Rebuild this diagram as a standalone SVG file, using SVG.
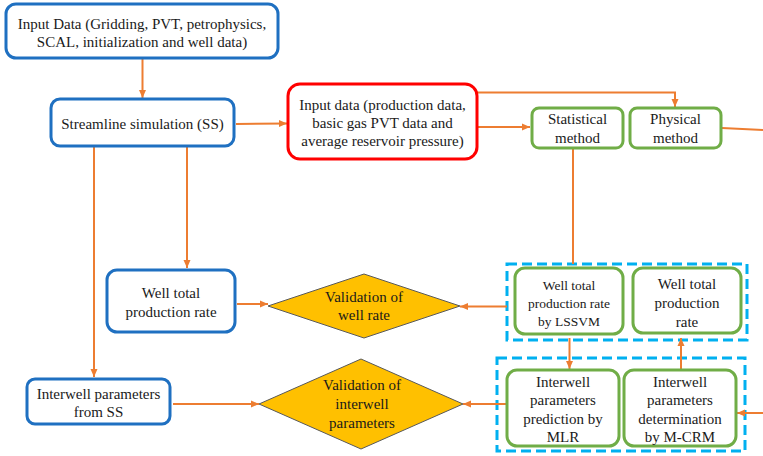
<svg xmlns="http://www.w3.org/2000/svg" width="763" height="456" viewBox="0 0 763 456" font-family="'Liberation Serif', 'DejaVu Serif', serif">
<defs>
<marker id="ah" markerUnits="userSpaceOnUse" markerWidth="8" markerHeight="8" refX="8" refY="4" orient="auto">
<path d="M0,0.5 L8,4 L0,7.5 z" fill="#ED7D31"/>
</marker>
</defs>
<style>
text{font-size:15px;fill:#1a1a1a;text-anchor:middle}
.blue{fill:#fff;stroke:#1F70C1;stroke-width:3}
.green{fill:#fff;stroke:#70AD47;stroke-width:3}
.red{fill:#fff;stroke:#FF0000;stroke-width:3}
.dash{fill:none;stroke:#00B0F0;stroke-width:3;stroke-dasharray:10 5}
.dia{fill:#FFC000;stroke:#595959;stroke-width:1}
.c{fill:none;stroke:#ED7D31;stroke-width:2}
.a{marker-end:url(#ah)}
.sm{font-size:13.5px}
</style>
<g id="groups">
<rect class="dash" x="507" y="264" width="240" height="76"/>
<rect class="dash" x="497" y="358" width="248" height="93"/>
</g>
<g id="connectors">
<line class="c a" x1="142.5" y1="59" x2="142.5" y2="98"/>
<line class="c a" x1="236" y1="124" x2="287" y2="123.5"/>
<line class="c a" x1="478" y1="127" x2="530" y2="127"/>
<polyline class="c a" points="477,92.5 675,92.5 675,107"/>
<line class="c" x1="722" y1="128" x2="763" y2="130"/>
<line class="c" x1="573" y1="149" x2="573" y2="264"/>
<line class="c a" x1="187" y1="147" x2="187" y2="268"/>
<line class="c a" x1="94" y1="147" x2="94" y2="377"/>
<line class="c a" x1="237" y1="304" x2="268" y2="304"/>
<line class="c a" x1="507" y1="306.5" x2="460" y2="306.5"/>
<line class="c a" x1="173" y1="404" x2="259" y2="404"/>
<line class="c a" x1="507" y1="404" x2="463" y2="404"/>
<line class="c a" x1="569.5" y1="338" x2="569.5" y2="369"/>
<line class="c a" x1="681" y1="369" x2="681" y2="338"/>
<line class="c a" x1="763" y1="413" x2="737" y2="413"/>
</g>
<g id="input-data">
<rect class="blue" x="6" y="4" width="272" height="54" rx="10"/>
<text x="142" y="29">Input Data (Gridding, PVT, petrophysics,</text>
<text x="142" y="47">SCAL, initialization and well data)</text>
</g>
<g id="streamline">
<rect class="blue" x="51" y="99" width="183" height="47" rx="9"/>
<text x="142.5" y="128.5">Streamline simulation (SS)</text>
</g>
<g id="input-production">
<rect class="red" x="288" y="84" width="189" height="75" rx="12"/>
<text x="382.5" y="110">Input data (production data,</text>
<text x="382.5" y="128">basic gas PVT data and</text>
<text x="382.5" y="146">average reservoir pressure)</text>
</g>
<g id="statistical">
<rect class="green" x="532" y="108" width="91" height="40" rx="7"/>
<text x="577.5" y="124">Statistical</text>
<text x="577.5" y="142.5">method</text>
</g>
<g id="physical">
<rect class="green" x="630" y="108" width="91" height="40" rx="7"/>
<text x="675.5" y="124">Physical</text>
<text x="675.5" y="142.5">method</text>
</g>
<g id="well-rate-ss">
<rect class="blue" x="107" y="270" width="128" height="62" rx="10"/>
<text x="171" y="298">Well total</text>
<text x="171" y="316.5">production rate</text>
</g>
<g id="validation-rate">
<polygon class="dia" points="268,306 364,274 460,306 364,338"/>
<text x="364" y="302">Validation of</text>
<text x="364" y="320">well rate</text>
</g>
<g id="interwell-ss">
<rect class="blue" x="27" y="379" width="143" height="45" rx="8"/>
<text x="98.5" y="399">Interwell parameters</text>
<text x="98.5" y="417">from SS</text>
</g>
<g id="validation-interwell">
<polygon class="dia" points="259,404 361,359 463,404 361,449"/>
<text x="362" y="390">Validation of</text>
<text x="362" y="409">interwell</text>
<text x="362" y="428">parameters</text>
</g>
<g id="lssvm">
<rect class="green" x="515" y="268" width="108" height="66" rx="10"/>
<text class="sm" x="569" y="289.5">Well total</text>
<text class="sm" x="569" y="307.5">production rate</text>
<text class="sm" x="569" y="325.5">by LSSVM</text>
</g>
<g id="well-rate-crm">
<rect class="green" x="633" y="268" width="108" height="65" rx="10"/>
<text x="687" y="289">Well total</text>
<text x="687" y="308">production</text>
<text x="687" y="327">rate</text>
</g>
<g id="mlr">
<rect class="green" x="507" y="370" width="112" height="76" rx="10"/>
<text x="563" y="386.5">Interwell</text>
<text x="563" y="405">parameters</text>
<text x="563" y="423.5">prediction by</text>
<text x="563" y="442">MLR</text>
</g>
<g id="mcrm">
<rect class="green" x="624" y="370" width="112" height="76" rx="10"/>
<text x="680" y="386.5">Interwell</text>
<text x="680" y="405">parameters</text>
<text x="680" y="423.5">determination</text>
<text x="680" y="442">by M-CRM</text>
</g>
</svg>
